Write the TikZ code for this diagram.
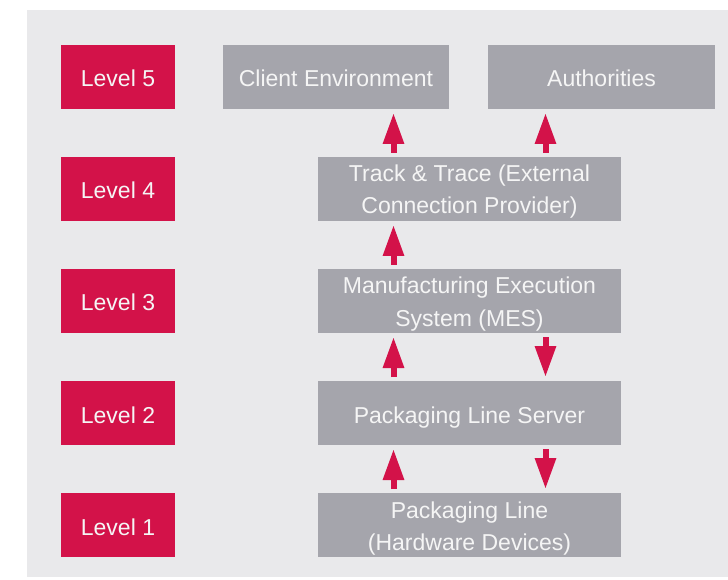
\documentclass[tikz,border=0pt]{standalone}
\usepackage{fontspec}
\setmainfont{Liberation Sans}
\usetikzlibrary{arrows.meta,positioning}

\definecolor{levelred}{HTML}{D31249}
\definecolor{sysgray}{HTML}{A5A5AC}
\definecolor{panelgray}{HTML}{E9E9EB}

\begin{document}
\begin{tikzpicture}[
x=1pt, y=1pt,
node distance=48pt,
box/.style={inner sep=0pt, outer sep=0pt, minimum height=64pt, align=center, text=white!96!black, font=\fontsize{23}{32}\selectfont, text height=20pt, text depth=0pt},
twolines/.style={text height=50pt},
level/.style={box, fill=levelred, minimum width=114pt},
system/.style={box, fill=sysgray, minimum width=303pt},
arrow/.style={-{Triangle[width=20pt,length=31pt]}, line width=6pt, levelred, shorten <=4pt, shorten >=4pt}
]
\useasboundingbox (0,0) rectangle (728,579);
\fill[panelgray] (27,2) rectangle (728,569);

% levels down the left
\node[level, anchor=north west] (l5) at (61,534) {Level 5};
\node[level, below=of l5] (l4) {Level 4};
\node[level, below=of l4] (l3) {Level 3};
\node[level, below=of l3] (l2) {Level 2};
\node[level, below=of l2] (l1) {Level 1};

% systems
\node[system, minimum width=226pt, right=48pt of l5] (client) {Client Environment};
\node[system, minimum width=227pt, right=39pt of client] (auth) {Authorities};
\node[system, twolines, right=143pt of l4] (track) {Track \& Trace (External\\Connection Provider)};
\node[system, twolines, right=143pt of l3] (mes) {Manufacturing Execution\\System (MES)};
\node[system, right=143pt of l2] (server) {Packaging Line Server};
\node[system, twolines, right=143pt of l1] (line) {Packaging Line\\(Hardware Devices)};

% data flow
\draw[arrow] ([xshift=-76pt]track.north) -- ([xshift=-76pt]track.north |- client.south);
\draw[arrow] ([xshift=76pt]track.north) -- ([xshift=76pt]track.north |- auth.south);
\draw[arrow] ([xshift=-76pt]mes.north) -- ([xshift=-76pt]mes.north |- track.south);
\draw[arrow] ([xshift=-76pt]server.north) -- ([xshift=-76pt]server.north |- mes.south);
\draw[arrow] ([xshift=76pt]mes.south) -- ([xshift=76pt]mes.south |- server.north);
\draw[arrow] ([xshift=-76pt]line.north) -- ([xshift=-76pt]line.north |- server.south);
\draw[arrow] ([xshift=76pt]server.south) -- ([xshift=76pt]server.south |- line.north);
\end{tikzpicture}
\end{document}
